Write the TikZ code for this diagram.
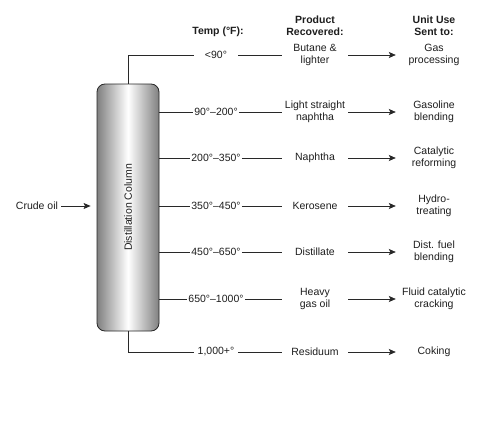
\documentclass[tikz,border=0pt]{standalone}
\usepackage{fontspec}
\setmainfont{Liberation Sans}
\usepackage{xcolor}
\definecolor{txtgray}{RGB}{30,30,30}
\definecolor{linegray}{RGB}{40,40,40}
\usetikzlibrary{arrows.meta, positioning}

\begin{document}
\begin{tikzpicture}[x=1pt, y=-1pt,
  lbl/.style={font=\fontsize{10.5}{12}\selectfont, text=txtgray, align=center, inner sep=1pt},
  hdr/.style={lbl, font=\fontsize{10.5}{12}\selectfont\bfseries},
  temp/.style={lbl, minimum width=44pt},
  prod/.style={lbl, minimum width=66pt, inner sep=0pt},
  unit/.style={lbl, minimum width=76pt, inner sep=0pt},
  ln/.style={draw=linegray, line width=0.7pt},
  arr/.style={ln, -{Stealth[length=7pt, width=6pt, inset=1.5pt]}}
]
\useasboundingbox[fill=white] (0,0) rectangle (489,428);

% Column
\node[draw=linegray, line width=0.8pt, rounded corners=8pt, inner sep=0pt,
      minimum width=62pt, minimum height=247pt,
      left color=black!50, right color=black!50, middle color=white]
  (col) at (128,207.5) {};
\node[lbl, rotate=90] (colname) at (col.center) {Distillation Column};

% Feed
\node[lbl, inner sep=3pt] (crude) at (37,206) {Crude oil};
\draw[arr, shorten >=6pt] (crude.east) -- (col.west |- crude);

% Headings
\node[hdr] (htemp) at (218,32) {Temp (°F):};
\node[hdr] (hprod) at (315,26) {Product\\Recovered:};
\node[hdr] (hunit) at (434,26) {Unit Use\\Sent to:};

% Temperature cuts
\node[temp] (t1) at (216,55) {<90°};
\node[temp] (t2) at (216,112) {90°–200°};
\node[temp] (t3) at (216,158) {200°–350°};
\node[temp] (t4) at (216,206) {350°–450°};
\node[temp] (t5) at (216,252) {450°–650°};
\node[temp] (t6) at (216,299) {650°–1000°};
\node[temp] (t7) at (216,352) {1,000+°};

% Products
\node[prod] (p1) at (315,55) {Butane \&\\lighter};
\node[prod] (p2) at (315,112) {Light straight\\naphtha};
\node[prod] (p3) at (315,158) {Naphtha};
\node[prod] (p4) at (315,206) {Kerosene};
\node[prod] (p5) at (315,252) {Distillate};
\node[prod] (p6) at (315,299) {Heavy\\gas oil};
\node[prod] (p7) at (315,352) {Residuum};

% Units
\node[unit] (u1) at (434,55) {Gas\\processing};
\node[unit] (u2) at (434,112) {Gasoline\\blending};
\node[unit] (u3) at (434,158) {Catalytic\\reforming};
\node[unit] (u4) at (434,206) {Hydro-\\treating};
\node[unit] (u5) at (434,252) {Dist. fuel\\blending};
\node[unit] (u6) at (434,299) {Fluid catalytic\\cracking};
\node[unit] (u7) at (434,352) {Coking};

% Draw-offs
\draw[ln] (col.north) |- (t1.west);
\draw[ln] (col.east |- t2) -- (t2.west);
\draw[ln] (col.east |- t3) -- (t3.west);
\draw[ln] (col.east |- t4) -- (t4.west);
\draw[ln] (col.east |- t5) -- (t5.west);
\draw[ln] (col.east |- t6) -- (t6.west);
\draw[ln] (col.south) |- (t7.west);

\draw[ln] (t1.east) -- (p1.west);
\draw[ln] (t2.east) -- (p2.west);
\draw[ln] (t3.east) -- (p3.west);
\draw[ln] (t4.east) -- (p4.west);
\draw[ln] (t5.east) -- (p5.west);
\draw[ln] (t6.east) -- (p6.west);
\draw[ln] (t7.east) -- (p7.west);

\draw[arr] (p1.east) -- (u1.west);
\draw[arr] (p2.east) -- (u2.west);
\draw[arr] (p3.east) -- (u3.west);
\draw[arr] (p4.east) -- (u4.west);
\draw[arr] (p5.east) -- (u5.west);
\draw[arr] (p6.east) -- (u6.west);
\draw[arr] (p7.east) -- (u7.west);
\end{tikzpicture}
\end{document}
